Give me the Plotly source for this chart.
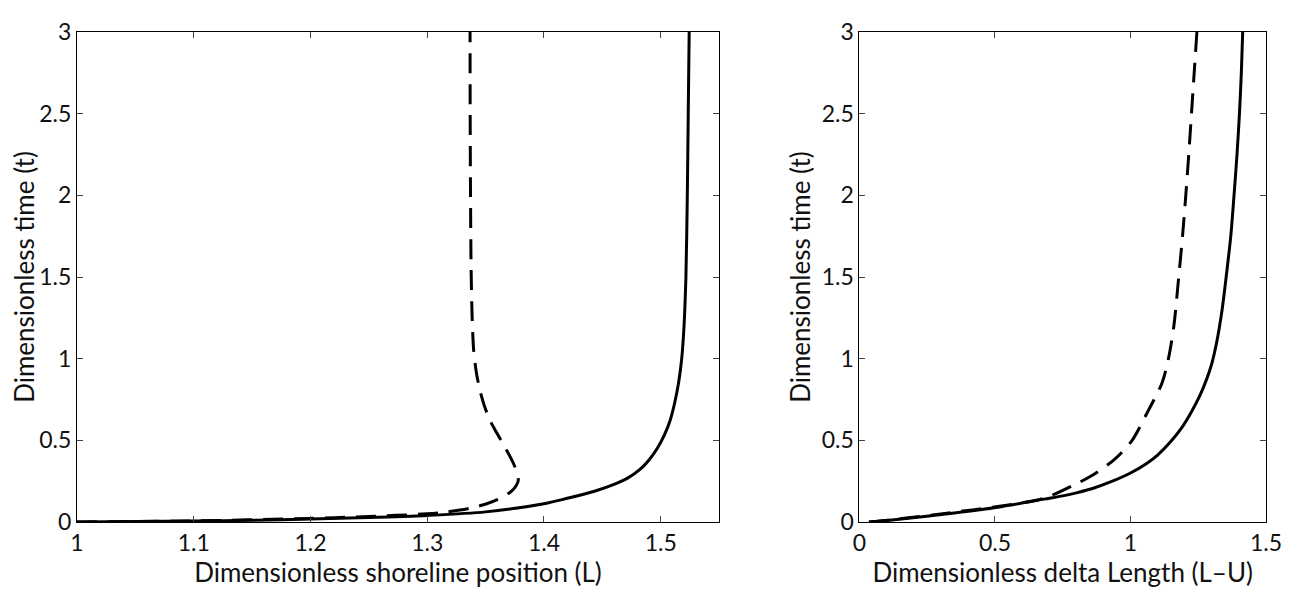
import plotly.graph_objects as go
from plotly.subplots import make_subplots

# Panel izquierdo: posicion de la linea de costa (L) vs tiempo (t)
left_solid_L = [1.000, 1.050, 1.100, 1.150, 1.200, 1.250, 1.300, 1.350, 1.400, 1.420,
                1.444, 1.460, 1.472, 1.482, 1.490, 1.497, 1.503, 1.508, 1.512, 1.5155,
                1.518, 1.520, 1.5216, 1.5228, 1.5236, 1.5244]
left_solid_t = [0.000, 0.003, 0.006, 0.011, 0.018, 0.027, 0.040, 0.062, 0.112, 0.145,
                0.190, 0.230, 0.270, 0.320, 0.380, 0.450, 0.530, 0.620, 0.730, 0.860,
                1.000, 1.200, 1.500, 2.000, 2.500, 3.000]

left_dash_L = [1.000, 1.100, 1.200, 1.250, 1.300, 1.315, 1.328, 1.340, 1.351, 1.360,
               1.367, 1.3725, 1.376, 1.378, 1.3775, 1.375, 1.371, 1.366, 1.360, 1.354,
               1.349, 1.345, 1.342, 1.3398, 1.3385, 1.3376, 1.3371, 1.3368, 1.3367]
left_dash_t = [0.000, 0.007, 0.022, 0.034, 0.050, 0.060, 0.073, 0.090, 0.112, 0.137,
               0.163, 0.190, 0.220, 0.255, 0.290, 0.340, 0.400, 0.465, 0.540, 0.620,
               0.710, 0.810, 0.920, 1.050, 1.250, 1.550, 2.000, 2.500, 3.000]

# Panel derecho: longitud delta (L-U) vs tiempo (t)
right_solid_D = [0.035, 0.120, 0.350, 0.510, 0.681, 0.750, 0.804, 0.860, 0.926, 1.000,
                 1.061, 1.100, 1.147, 1.190, 1.220, 1.255, 1.280, 1.300, 1.318, 1.338,
                 1.353, 1.370, 1.382, 1.393, 1.402, 1.409, 1.414]
right_solid_t = [0.000, 0.012, 0.055, 0.090, 0.140, 0.160, 0.180, 0.205, 0.245, 0.300,
                 0.360, 0.410, 0.490, 0.580, 0.660, 0.770, 0.870, 0.970, 1.100, 1.300,
                 1.500, 1.750, 2.000, 2.250, 2.500, 2.750, 3.000]

right_dash_D = [0.035, 0.120, 0.350, 0.510, 0.657, 0.706, 0.792, 0.853, 0.939, 1.006,
                1.061, 1.116, 1.140, 1.160, 1.178, 1.192, 1.204, 1.215, 1.225, 1.235,
                1.245]
right_dash_t = [0.000, 0.014, 0.060, 0.095, 0.135, 0.160, 0.227, 0.280, 0.380, 0.500,
                0.667, 0.850, 1.000, 1.200, 1.500, 1.750, 2.000, 2.250, 2.500, 2.750,
                3.000]

y_ticks = [0, 0.5, 1, 1.5, 2, 2.5, 3]
y_ticktext = ['0', '0.5', '1', '1.5', '2', '2.5', '3']
left_x_ticks = [1, 1.1, 1.2, 1.3, 1.4, 1.5]
right_x_ticks = [0, 0.5, 1, 1.5]

FONT = 'Lato'
DASH = '20px,11px'

fig = make_subplots(rows=1, cols=2)

fig.add_trace(go.Scatter(x=left_solid_L, y=left_solid_t, mode='lines',
                         line=dict(color='black', width=3, shape='spline', smoothing=0.8)),
              row=1, col=1)
fig.add_trace(go.Scatter(x=left_dash_L, y=left_dash_t, mode='lines',
                         line=dict(color='black', width=3, dash=DASH, shape='spline', smoothing=0.8)),
              row=1, col=1)
fig.add_trace(go.Scatter(x=right_solid_D, y=right_solid_t, mode='lines',
                         line=dict(color='black', width=3, shape='spline', smoothing=0.8)),
              row=1, col=2)
fig.add_trace(go.Scatter(x=right_dash_D, y=right_dash_t, mode='lines',
                         line=dict(color='black', width=3, dash=DASH, shape='spline', smoothing=0.8)),
              row=1, col=2)

axis_style = dict(showline=True, linecolor='black', linewidth=1, mirror='ticks',
                  ticks='inside', ticklen=6, tickcolor='#444', showgrid=False,
                  zeroline=False, ticklabeloverflow='allow',
                  tickfont=dict(family=FONT, size=23, color='#111'))

fig.update_xaxes(**axis_style)
fig.update_yaxes(**axis_style)

title_font = dict(family=FONT, size=26, color='#111')
fig.update_xaxes(range=[1, 1.55], tickvals=left_x_ticks, domain=[0, 0.540],
                 title=dict(text='Dimensionless shoreline position (L)', standoff=6,
                            font=title_font), row=1, col=1)
fig.update_xaxes(range=[0, 1.5], tickvals=right_x_ticks, domain=[0.6581, 1.0],
                 title=dict(text='Dimensionless delta Length (L\u2013U)', standoff=6,
                            font=title_font), row=1, col=2)
fig.update_yaxes(range=[0, 3], tickvals=y_ticks, ticktext=y_ticktext,
                 title=dict(text='Dimensionless time (t)', standoff=3, font=title_font))

# la pagina tiene 8px de margen, por eso la figura es algo menor que la ventana
fig.update_layout(width=1283, height=581, showlegend=False,
                  plot_bgcolor='white', paper_bgcolor='white',
                  margin=dict(l=69, r=12, t=9, b=56))

fig.write_html('out.html')
